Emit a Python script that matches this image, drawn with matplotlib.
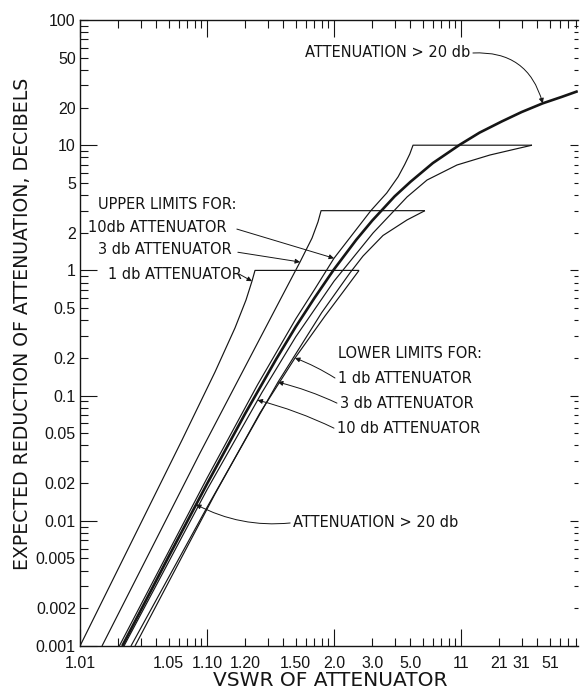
import matplotlib
matplotlib.use("Agg")
import numpy as np
import matplotlib.pyplot as plt
from matplotlib.ticker import FixedLocator, FixedFormatter, NullFormatter

INK = "#151515"
NARROW = ["Liberation Sans", "DejaVu Sans"]

# axis ticks (x axis is VSWR, drawn on a log scale of VSWR - 1)
vswr_ticks = [1.01, 1.05, 1.10, 1.20, 1.50, 2.0, 3.0, 5.0, 11, 21, 31, 51]
vswr_labels = ["1.01", "1.05", "1.10", "1.20", "1.50", "2.0", "3.0", "5.0", "11", "21", "31", "51"]
y_ticks = [100, 50, 20, 10, 5, 2, 1, 0.5, 0.2, 0.1, 0.05, 0.02, 0.01, 0.005, 0.002, 0.001]
y_labels = ["100", "50", "20", "10", "5", "2", "1", "0.5", "0.2", "0.1",
            "0.05", "0.02", "0.01", "0.005", "0.002", "0.001"]

# attenuation > 20 db (heavy curve)
big_vswr = [1.0215, 1.05, 1.10, 1.20, 1.35, 1.50, 1.70, 2.0, 2.5, 3.0, 4.0, 5.0,
            7.0, 10.8, 15, 22, 31, 45, 63, 84]
big_db = [0.001, 0.0052, 0.0197, 0.072, 0.195, 0.355, 0.60, 1.02, 1.76, 2.5, 3.9, 5.1,
          7.2, 10.1, 12.6, 15.5, 18.4, 21.6, 24.3, 27.0]

# upper limits
up1_vswr = [1.01, 1.0636, 1.1156, 1.1661, 1.2028, 1.226, 1.2388, 2.575]
up1_db = [0.001, 0.0442, 0.1543, 0.347, 0.58, 0.82, 1.0, 1.0]
up3_vswr = [1.0149, 1.0881, 1.376, 1.54, 1.671, 1.748, 1.791, 6.2]
up3_db = [0.001, 0.0348, 0.58, 1.167, 1.81, 2.44, 3.0, 3.0]
up10_vswr = [1.0204, 1.1, 1.25, 1.5, 1.7, 2.0, 2.95, 3.6, 4.2, 4.6, 4.95, 5.19, 37.2]
up10_db = [0.001, 0.0219, 0.122, 0.41, 0.70, 1.25, 3.0, 4.15, 5.6, 7.0, 8.5, 10.0, 10.0]

# lower limits
lo1_vswr = [1.0271, 1.1156, 1.261, 1.493, 1.849, 2.2, 2.575]
lo1_db = [0.001, 0.01637, 0.0726, 0.1996, 0.432, 0.69, 1.0]
lo3_vswr = [1.0252, 1.1, 1.362, 1.8, 2.33, 2.69, 3.43, 4.76, 6.2]
lo3_db = [0.001, 0.0128, 0.128, 0.46, 0.95, 1.3, 1.9, 2.53, 3.0]
lo10_vswr = [1.0222, 1.1, 1.271, 1.5, 2.0, 3.03, 4.76, 6.4, 10.3, 17.9, 27, 37.2]
lo10_db = [0.001, 0.0177, 0.106, 0.295, 0.82, 1.99, 3.86, 5.27, 6.95, 8.35, 9.25, 10.0]

fig = plt.figure(figsize=(5.8, 6.96), dpi=100)
ax = fig.add_axes([80 / 580, 1 - 646 / 696, 498 / 580, 626 / 696])
ax.set_xscale("log")
ax.set_yscale("log")
ax.set_xlim(0.01, 83.4)
ax.set_ylim(0.001, 100)


def curve(vswr, db, lw=0.85):
    ax.plot(np.array(vswr) - 1, db, color=INK, lw=lw, solid_capstyle="butt")


for v, d in [(up1_vswr, up1_db), (up3_vswr, up3_db), (up10_vswr, up10_db),
             (lo1_vswr, lo1_db), (lo3_vswr, lo3_db), (lo10_vswr, lo10_db)]:
    curve(v, d)
curve(big_vswr, big_db, lw=1.9)

# ---- ticks ----
ux = [v - 1 for v in vswr_ticks]
ax.xaxis.set_major_locator(FixedLocator(ux))
ax.xaxis.set_major_formatter(FixedFormatter(vswr_labels))
mx = [k * 10.0 ** n for n in range(-2, 2) for k in range(1, 10)]
mx = [m for m in mx if m < 83 and all(abs(m / t - 1) > 1e-6 for t in ux)]
ax.xaxis.set_minor_locator(FixedLocator(mx))
ax.xaxis.set_minor_formatter(NullFormatter())

ax.yaxis.set_major_locator(FixedLocator(y_ticks))
ax.yaxis.set_major_formatter(FixedFormatter(y_labels))
my = [k * 10.0 ** n for n in range(-3, 2) for k in (3, 4, 6, 7, 8, 9)]
ax.yaxis.set_minor_locator(FixedLocator(my))
ax.yaxis.set_minor_formatter(NullFormatter())

ax.tick_params(which="both", direction="in", top=True, right=True, width=0.8,
               color=INK, length=5.5, labelsize=11.5, labelcolor=INK,
               labelfontfamily=NARROW)
ax.tick_params(axis="x", which="major", pad=7)
ax.tick_params(axis="y", which="major", pad=3)


def is_decade(v):
    return abs(np.log10(v) - round(np.log10(v))) < 1e-6


for t, v in zip(ax.xaxis.get_major_ticks(), ux):
    if is_decade(v):
        t.tick1line.set_markersize(12)
        t.tick2line.set_markersize(12)
for t, v in zip(ax.yaxis.get_major_ticks(), y_ticks):
    if is_decade(v) and v < 100:
        t.tick1line.set_markersize(12)
    t.tick2line.set_color("#a0a0a0")
    t.tick2line.set_markersize(6 if is_decade(v) else 3)
for t in ax.yaxis.get_minor_ticks():
    t.tick2line.set_color("#a0a0a0")
    t.tick2line.set_markersize(3)

for side in ("left", "bottom", "top"):
    ax.spines[side].set_color(INK)
    ax.spines[side].set_linewidth(1.0)
ax.spines["right"].set_visible(False)

# ---- axis titles ----
fig.text(23 / 580, 1 - 324 / 696, "EXPECTED REDUCTION OF ATTENUATION, DECIBELS",
         rotation=90, ha="center", va="center", fontsize=13.6, color=INK)
fig.text(330 / 580, 1 - 680 / 696, "VSWR OF ATTENUATOR",
         ha="center", va="center", fontsize=14.5, color=INK)

# ---- labels and leaders ----
lab = dict(fontsize=10.5, color=INK, va="center", transform=ax.transAxes)
ax.text(0.036, 0.7045, "UPPER LIMITS FOR:", **lab)
ax.text(0.016, 0.6693, "10db ATTENUATOR", **lab)
ax.text(0.036, 0.6326, "3 db ATTENUATOR", **lab)
ax.text(0.056, 0.5942, "1 db ATTENUATOR", **lab)
ax.text(0.518, 0.468, "LOWER LIMITS FOR:", **lab)
ax.text(0.518, 0.4281, "1 db ATTENUATOR", **lab)
ax.text(0.522, 0.388, "3 db ATTENUATOR", **lab)
ax.text(0.516, 0.348, "10 db ATTENUATOR", **lab)
ax.text(0.783, 0.9473, "ATTENUATION > 20 db", ha="right", **lab)
ax.text(0.428, 0.1965, "ATTENUATION > 20 db", **lab)


def leader(tip, start, rad=0.0):
    ax.annotate("", xy=tip, xycoords="data", xytext=start, textcoords="axes fraction",
                arrowprops=dict(arrowstyle="-|>", color=INK, lw=0.7, mutation_scale=7,
                                shrinkA=0, shrinkB=0,
                                connectionstyle=f"arc3,rad={rad}"))


leader((1.0, 1.25), (0.315, 0.666))
leader((0.54, 1.167), (0.317, 0.629))
leader((0.226, 0.82), (0.320, 0.594))
leader((0.493, 0.1996), (0.512, 0.4281), rad=0.05)
leader((0.362, 0.128), (0.516, 0.388), rad=0.05)
leader((0.25, 0.092), (0.510, 0.348), rad=0.05)
leader((44, 21.6), (0.789, 0.9473), rad=-0.4)
leader((0.082, 0.0135), (0.422, 0.1965), rad=-0.15)

fig.savefig("out.png", dpi=100, facecolor="white")
